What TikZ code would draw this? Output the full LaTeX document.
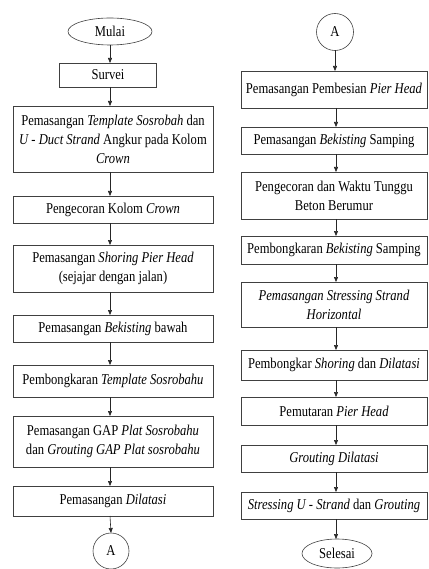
\documentclass[tikz,border=0pt]{standalone}
\usepackage{fontspec}
\setmainfont[FakeStretch=0.84]{Liberation Serif}
\usetikzlibrary{arrows.meta,shapes.geometric}
\begin{document}
\begin{tikzpicture}[x=1pt,y=-1pt,
  box/.style={draw=black!75, line width=0.6pt, rectangle, align=center, inner sep=1pt, outer sep=0pt,
    font=\fontsize{15}{19}\selectfont},
  lbox/.style={box, minimum width=200pt},
  rbox/.style={box, minimum width=186pt},
  term/.style={draw=black!75, line width=0.6pt, ellipse, inner sep=0pt, outer sep=0pt,
    font=\fontsize{15}{19}\selectfont},
  conn/.style={draw=black!75, line width=0.6pt, circle, inner sep=0pt, outer sep=0pt,
    font=\fontsize{15}{19}\selectfont},
  arr/.style={draw=black!85, line width=0.6pt, -{Triangle[length=5pt,width=4pt]}}]
\useasboundingbox (0,0) rectangle (428,569);

% left column
\node[term, minimum width=84pt, minimum height=27pt] (mulai) at (110,31.5) {Mulai};
\node[box, minimum width=97pt, minimum height=24pt] (survei) at (108,75) {Survei};
\node[lbox, minimum height=66pt] (templ) at (113,139) {Pemasangan \textit{Template Sosrobah} dan\\\textit{U - Duct Strand} Angkur pada Kolom\\\textit{Crown}};
\node[lbox, minimum height=27pt] (cor) at (113,209.5) {Pengecoran Kolom \textit{Crown}};
\node[lbox, minimum height=47pt] (shor) at (113,268.5) {Pemasangan \textit{Shoring Pier Head}\\(sejajar dengan jalan)};
\node[lbox, minimum height=27pt] (bekb) at (113,328.5) {Pemasangan \textit{Bekisting} bawah};
\node[lbox, minimum height=32pt] (bongt) at (113,381) {Pembongkaran \textit{Template Sosrobahu}};
\node[lbox, minimum height=51pt] (gap) at (113,441.5) {Pemasangan GAP \textit{Plat Sosrobahu}\\dan \textit{Grouting GAP Plat sosrobahu}};
\node[lbox, minimum height=30pt] (dil) at (113,501) {Pemasangan \textit{Dilatasi}};
\node[conn, minimum size=36pt] (a1) at (111,551) {A};

% right column
\node[conn, minimum size=37pt] (a2) at (335,32) {A};
\node[rbox, minimum height=37pt] (besi) at (334,89.5) {Pemasangan Pembesian \textit{Pier Head}};
\node[rbox, minimum height=27pt] (beks) at (334,140.5) {Pemasangan \textit{Bekisting} Samping};
\node[rbox, minimum height=47pt] (cor2) at (334,195.5) {Pengecoran dan Waktu Tunggu\\Beton Berumur};
\node[rbox, minimum height=28pt] (bongb) at (334,250) {Pembongkaran \textit{Bekisting} Samping};
\node[rbox, minimum height=45pt] (str) at (334,304.5) {\textit{Pemasangan Stressing Strand}\\\textit{Horizontal}};
\node[rbox, minimum height=30pt] (bongs) at (334,365) {Pembongkar \textit{Shoring} dan \textit{Dilatasi}};
\node[rbox, minimum height=28pt] (putar) at (334,411) {Pemutaran \textit{Pier Head}};
\node[rbox, minimum height=27pt] (grout) at (334,458.5) {\textit{Grouting Dilatasi}};
\node[rbox, minimum height=27pt] (stru) at (334,505.5) {\textit{Stressing U - Strand} dan \textit{Grouting}};
\node[term, minimum width=70pt, minimum height=29pt] (sel) at (337,553.5) {Selesai};

% connectors left
\draw[arr] (mulai.south) -- (mulai.south |- survei.north);
\draw[arr] (mulai.south |- survei.south) -- (mulai.south |- templ.north);
\draw[arr] (mulai.south |- templ.south) -- (mulai.south |- cor.north);
\draw[arr] (mulai.south |- cor.south) -- (mulai.south |- shor.north);
\draw[arr] (mulai.south |- shor.south) -- (mulai.south |- bekb.north);
\draw[arr] (mulai.south |- bekb.south) -- (mulai.south |- bongt.north);
\draw[arr] (mulai.south |- bongt.south) -- (mulai.south |- gap.north);
\draw[arr] (mulai.south |- gap.south) -- (mulai.south |- dil.north);
\draw[arr] (mulai.south |- dil.south) -- (a1.north);

% connectors right
\coordinate (rx) at (336,0);
\draw[arr] (a2.south) -- (a2.south |- besi.north);
\draw[arr] (rx |- besi.south) -- (rx |- beks.north);
\draw[arr] (rx |- beks.south) -- (rx |- cor2.north);
\draw[arr] (rx |- cor2.south) -- (rx |- bongb.north);
\draw[arr] (rx |- bongb.south) -- (rx |- str.north);
\draw[arr] (rx |- str.south) -- (rx |- bongs.north);
\draw[arr] (rx |- bongs.south) -- (rx |- putar.north);
\draw[arr] (rx |- putar.south) -- (rx |- grout.north);
\draw[arr] (rx |- grout.south) -- (rx |- stru.north);
\draw[arr] (rx |- stru.south) -- (rx |- sel.north);
\end{tikzpicture}
\end{document}
